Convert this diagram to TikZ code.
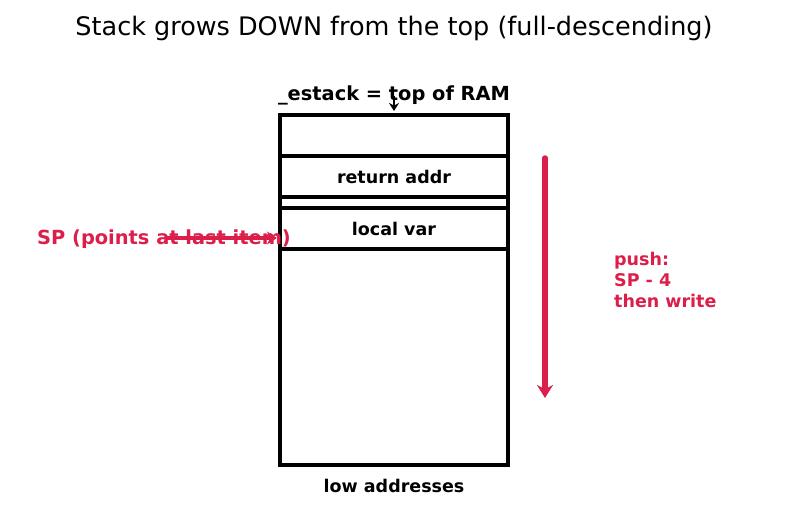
\documentclass[tikz,border=0pt]{standalone}
\usepackage{fontspec}
\setmainfont{DejaVu Sans}
\usetikzlibrary{arrows.meta}
\definecolor{spred}{HTML}{DC1E4A}
\begin{document}
\begin{tikzpicture}[x=1pt,y=-1pt,
  lbl/.style={font=\bfseries\fontsize{17.5}{21}\selectfont, inner sep=0pt},
  cell/.style={inner sep=0pt, minimum width=228pt, minimum height=41pt, draw, line width=4pt},
  redarrow/.style={spred, line width=4pt}]
\useasboundingbox (0,0) rectangle (787,520);
% title
\node[font=\fontsize{25.5}{30}\selectfont] (title) at (394,28) {Stack grows DOWN from the top (full-descending)};
% stack region
\draw[line width=4pt] (280,115) rectangle (508,465);
\node[cell] (ret) at (394,176.5) {};
\node[cell] (loc) at (394,228.5) {};
\node[lbl] at (ret) {return addr};
\node[lbl] at (loc) {local var};
% top label
\node[lbl, font=\bfseries\fontsize{19.4}{23}\selectfont] (estack) at (394,95) {\_estack = top of RAM};
\coordinate (topin) at (394,111);
\draw[line width=2.5pt, -{Stealth[length=8pt,width=10pt]}] (394,96) -- (topin);
% bottom label
\node[lbl] (low) at (394,486) {low addresses};
% stack pointer
\node[lbl, text=spred, font=\bfseries\fontsize{19.4}{23}\selectfont, anchor=west] (sp) at (37,239) {SP (points at last item)};
\coordinate (spfrom) at (165,238);
\coordinate (spto) at (277,238);
\draw[redarrow, line width=4.5pt, -{Stealth[length=10pt,width=13pt]}] (spfrom) -- (spto);
% growth direction
\coordinate (gtop) at (545,158);
\coordinate (gbot) at (545,398);
\draw[redarrow, line width=5.5pt, line cap=round, -{Stealth[length=13pt,width=16pt]}] (gtop) -- (gbot);
\node[lbl, text=spred, align=left, anchor=west, font=\bfseries\fontsize{17.5}{21}\selectfont] (push) at (614,280) {push:\\SP - 4\\then write};
\end{tikzpicture}
\end{document}
